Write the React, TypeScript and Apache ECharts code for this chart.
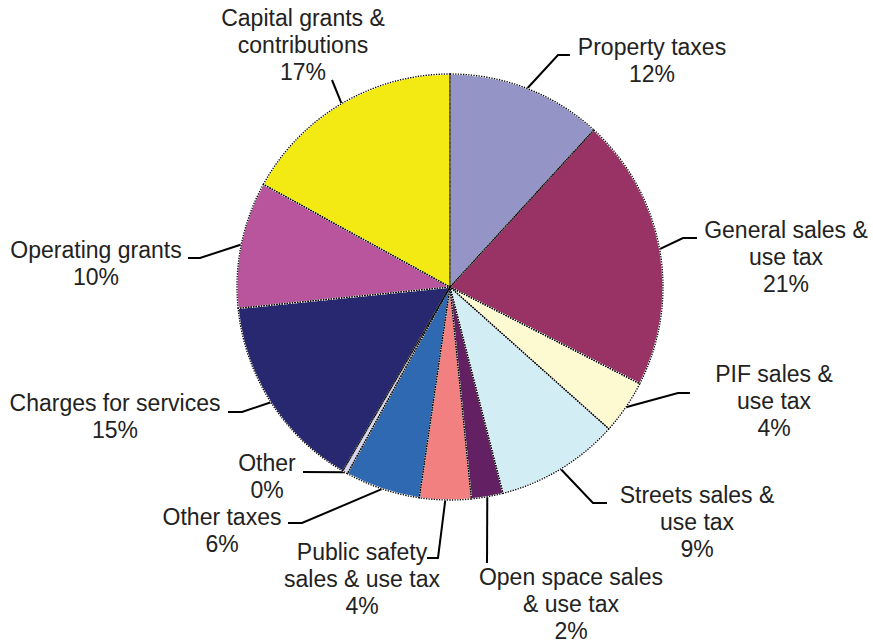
import React, { useEffect, useRef } from "react";
import * as echarts from "echarts";

const categories = [
  "Property taxes",
  "General sales &\nuse tax",
  "PIF sales &\nuse tax",
  "Streets sales &\nuse tax",
  "Open space sales\n& use tax",
  "Public safety\nsales & use tax",
  "Other taxes",
  "Other",
  "Charges for services",
  "Operating grants",
  "Capital grants &\ncontributions",
];

const shares = [11.8, 20.7, 4.1, 9.4, 2.4, 3.9, 5.7, 0.4, 15.0, 9.6, 17.0];

const sliceColors = [
  "#9494C6",
  "#993366",
  "#FDF9D1",
  "#D3EDF5",
  "#632063",
  "#F38080",
  "#2E69B2",
  "#D5D5EE",
  "#272870",
  "#B8559D",
  "#F4EA13",
];

// Label layout (label block centre x, first-line centre y, leader-line elbow & end)
const LINE_H = 27;
const labelPlacement: { x: number; y: number; elbow?: number[]; end: number[] }[] = [
  { x: 652, y: 47, elbow: [558, 55], end: [570, 55] },
  { x: 786, y: 230, elbow: [683, 238], end: [697, 238] },
  { x: 774, y: 374, elbow: [678, 393], end: [690, 393] },
  { x: 697, y: 495, elbow: [593, 503], end: [607, 503] },
  { x: 571, y: 577, end: [487, 563] },
  { x: 362, y: 552, elbow: [438, 558], end: [427, 558] },
  { x: 222, y: 517, elbow: [302, 523], end: [288, 523] },
  { x: 267, y: 463, end: [303, 472] },
  { x: 115, y: 403, elbow: [242, 412], end: [228, 412] },
  { x: 96, y: 250, elbow: [200, 258], end: [188, 258] },
  { x: 303, y: 18, end: [332, 80] },
];

export default function App() {
  const ref = useRef<HTMLDivElement>(null);
  useEffect(() => {
    if (!ref.current) return;
    const chart = echarts.init(ref.current, null, { renderer: "svg" });
    const data = categories.map((name, i) => ({
      name,
      value: shares[i],
      itemStyle: { color: sliceColors[i] },
    }));
    chart.setOption({
      animation: false,
      backgroundColor: "#ffffff",
      series: [
        {
          type: "pie",
          center: [450, 287],
          radius: 213,
          startAngle: 90,
          clockwise: true,
          avoidLabelOverlap: false,
          data,
          itemStyle: { borderColor: "#ffffff", borderWidth: 1.3 },
          label: {
            show: true,
            position: "outside",
            width: 260,
            overflow: "none",
            fontFamily: "Liberation Sans, Arial, sans-serif",
            fontSize: 23,
            lineHeight: LINE_H,
            color: "#222222",
            align: "center",
            formatter: (p: any) => `${p.name}\n${Math.round(p.percent)}%`,
          },
          labelLine: {
            show: true,
            length: 15,
            length2: 15,
            lineStyle: { color: "#000000", width: 2 },
          },
          labelLayout: (params: any) => {
            const L = labelPlacement[params.dataIndex];
            const edge =
              params.labelLinePoints && params.labelLinePoints[0]
                ? params.labelLinePoints[0]
                : L.end;
            const pts = [edge];
            if (L.elbow) pts.push(L.elbow);
            pts.push(L.end);
            return {
              x: L.x,
              y: L.y - LINE_H / 2,
              align: "center",
              verticalAlign: "top",
              labelLinePoints: pts,
            };
          },
          emphasis: { disabled: true },
        },
        {
          type: "pie",
          center: [450, 287],
          radius: 213,
          startAngle: 90,
          clockwise: true,
          silent: true,
          data: categories.map((name, i) => ({ name, value: shares[i] })),
          itemStyle: {
            color: "rgba(0,0,0,0)",
            borderColor: "#000000",
            borderWidth: 1.3,
            borderType: [1.3, 1.3],
          },
          label: { show: false },
          labelLine: { show: false },
          emphasis: { disabled: true },
        },
      ],
    });
    return () => chart.dispose();
  }, []);
  return (
    <div
      ref={ref}
      style={{ position: "absolute", left: 0, top: 0, width: 873, height: 644 }}
    />
  );
}
